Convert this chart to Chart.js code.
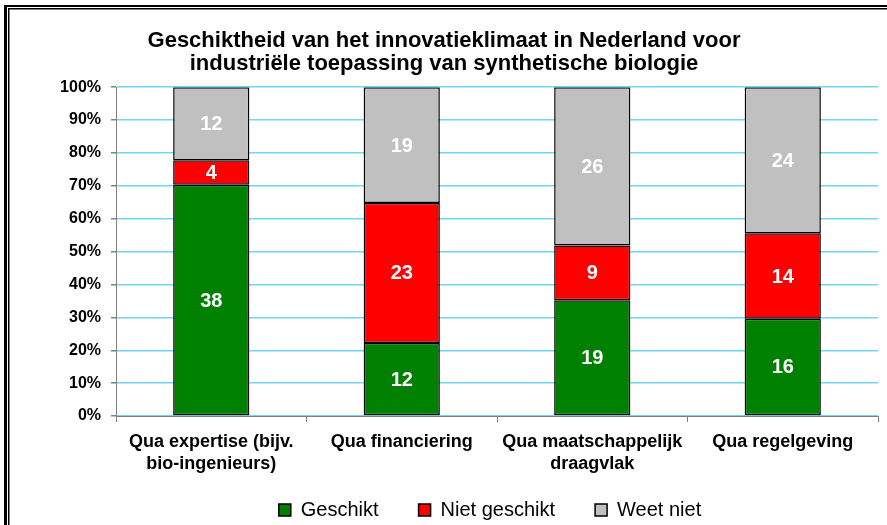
<!DOCTYPE html>
<html>
<head>
<meta charset="utf-8">
<script src="https://cdn.jsdelivr.net/npm/chart.js@4.4.0/dist/chart.umd.min.js"></script>
<style>
  html, body { margin: 0; padding: 0; background: #fff; }
  #wrap { width: 887px; height: 525px; }
</style>
</head>
<body>
<div id="wrap"><canvas id="chartBar"></canvas></div>
<script>
const categories = [
  ["Qua expertise (bijv.", "bio-ingenieurs)"],
  "Qua financiering",
  ["Qua maatschappelijk", "draagvlak"],
  "Qua regelgeving"
];
const geschikt = [38, 12, 19, 16];
const nietGeschikt = [4, 23, 9, 14];
const weetNiet = [12, 19, 26, 24];
const yTickStep = 10; // 0% .. 100%

// share of each answer per category (100% stacked)
const totals = categories.map((c, i) => geschikt[i] + nietGeschikt[i] + weetNiet[i]);
const toPct = arr => arr.map((v, i) => v / totals[i] * 100);

const FONT = "'Liberation Sans', Arial, sans-serif";

// white background + the double frame at the top/left
const framePlugin = {
  id: "frame",
  beforeDraw(chart) {
    const ctx = chart.ctx;
    ctx.save();
    ctx.fillStyle = "#fff";
    ctx.fillRect(0, 0, chart.width, chart.height);
    ctx.fillStyle = "#000";
    ctx.fillRect(4, 5, 3, chart.height);
    ctx.fillRect(4, 5, chart.width, 2);
    ctx.fillRect(8, 8, 1.5, chart.height);
    ctx.fillRect(8, 8, chart.width, 1.5);
    ctx.restore();
  }
};

// counts written in the middle of each segment
const countLabels = {
  id: "countLabels",
  afterDatasetsDraw(chart) {
    const ctx = chart.ctx;
    ctx.save();
    ctx.fillStyle = "#fff";
    ctx.font = "bold 20px " + FONT;
    ctx.textAlign = "center";
    ctx.textBaseline = "middle";
    chart.data.datasets.forEach((ds, di) => {
      const meta = chart.getDatasetMeta(di);
      meta.data.forEach((bar, i) => {
        const p = bar.getProps(["x", "y", "base"], true);
        ctx.fillText(String(ds.counts[i]), p.x, (p.y + p.base) / 2 + 1);
      });
    });
    ctx.restore();
  }
};

// legend sits a bit right of the canvas centre and high in its box
const legendShift = {
  id: "legendShift",
  afterLayout(chart) {
    const lg = chart.legend;
    lg.left += 46;
    lg.right += 46;
    lg.top -= 24;
  }
};

const data = {
  labels: categories,
  datasets: [
    {
      label: "Geschikt",
      counts: geschikt,
      data: toPct(geschikt),
      backgroundColor: "#008000",
      borderColor: "#000",
      borderWidth: 1.5,
      borderSkipped: false
    },
    {
      label: "Niet geschikt",
      counts: nietGeschikt,
      data: toPct(nietGeschikt),
      backgroundColor: "#ff0000",
      borderColor: "#000",
      borderWidth: 1.5,
      borderSkipped: false
    },
    {
      label: "Weet niet",
      counts: weetNiet,
      data: toPct(weetNiet),
      backgroundColor: "#c0c0c0",
      borderColor: "#000",
      borderWidth: 1.5,
      borderSkipped: false
    }
  ]
};

const config = {
  type: "bar",
  data,
  options: {
    responsive: true,
    maintainAspectRatio: false,
    animation: false,
    barPercentage: 0.4,
    categoryPercentage: 1,
    layout: { padding: { left: 10, right: 9, top: 20, bottom: 0 } },
    plugins: {
      title: {
        display: true,
        text: ["Geschiktheid van het innovatieklimaat in Nederland voor",
               "industriële toepassing van synthetische biologie"],
        color: "#000",
        font: { family: FONT, size: 22, weight: "bold", lineHeight: 1.05 },
        padding: { top: 9, bottom: 12 }
      },
      legend: {
        position: "bottom",
        maxHeight: 41,
        labels: {
          color: "#000",
          font: { family: FONT, size: 20 },
          boxWidth: 12,
          boxHeight: 12,
          padding: 40
        }
      },
      tooltip: { enabled: false }
    },
    scales: {
      x: {
        stacked: true,
        grid: {
          display: true,
          drawOnChartArea: false,
          offset: true,
          color: "#808080",
          tickLength: 6
        },
        border: { color: "#808080", width: 1 },
        ticks: {
          color: "#000",
          maxRotation: 0,
          padding: 9,
          font: { family: FONT, size: 18, weight: "bold", lineHeight: 1.22 }
        }
      },
      y: {
        stacked: true,
        min: 0,
        max: 100,
        afterFit(scale) { scale.width = 106; },
        grid: {
          color: "#6fd6f4",
          lineWidth: 1.5,
          tickColor: "#808080",
          tickLength: 5
        },
        border: { color: "#808080", width: 1 },
        ticks: {
          stepSize: yTickStep,
          color: "#000",
          padding: 10,
          font: { family: FONT, size: 16, weight: "bold" },
          callback: v => v + "%"
        }
      }
    }
  },
  plugins: [framePlugin, countLabels, legendShift]
};

var chartBar = new Chart(document.getElementById("chartBar"), config);
</script>
</body>
</html>
